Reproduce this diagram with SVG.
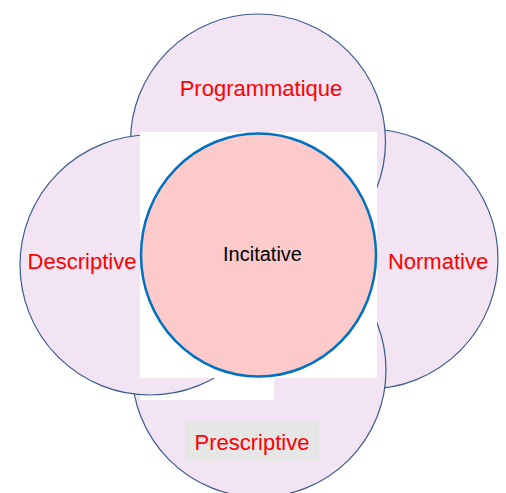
<svg xmlns="http://www.w3.org/2000/svg" width="506" height="493" viewBox="0 0 506 493">
<style>
.petal{fill:#F2E4F2;stroke:#3B5B8E;stroke-width:1.2}
.mask{fill:#FFFFFF}
.lbl{font-family:"Liberation Sans",Arial,sans-serif;font-size:22px;fill:#FF0000;text-anchor:middle}
.ctr{font-family:"Liberation Sans",Arial,sans-serif;font-size:20px;fill:#000000;text-anchor:middle}
</style>
<rect width="506" height="493" fill="#FFFFFF"/>
<g id="normative">
<circle class="petal" cx="368" cy="259" r="130"/>
</g>
<g id="prescriptive">
<circle class="petal" cx="259" cy="370" r="127"/>
</g>
<rect class="mask" x="140" y="360" width="134" height="40"/>
<g id="programmatique">
<circle class="petal" cx="258" cy="141.5" r="127.5"/>
</g>
<g id="descriptive">
<circle class="petal" cx="150" cy="265" r="130"/>
</g>
<rect class="mask" x="140" y="132" width="237" height="246"/>
<rect x="185" y="422" width="134" height="40" fill="#E6E6E6"/>
<g id="incitative">
<ellipse cx="258.5" cy="255" rx="117.5" ry="121.5" fill="#FCCACA" stroke="#0070C0" stroke-width="2.5"/>
<text class="ctr" x="262.5" y="261">Incitative</text>
</g>
<g id="labels">
<text class="lbl" x="261" y="96">Programmatique</text>
<text class="lbl" x="82" y="269">Descriptive</text>
<text class="lbl" x="438" y="269">Normative</text>
<text class="lbl" x="252" y="450">Prescriptive</text>
</g>
<g id="connectors"/>
</svg>
